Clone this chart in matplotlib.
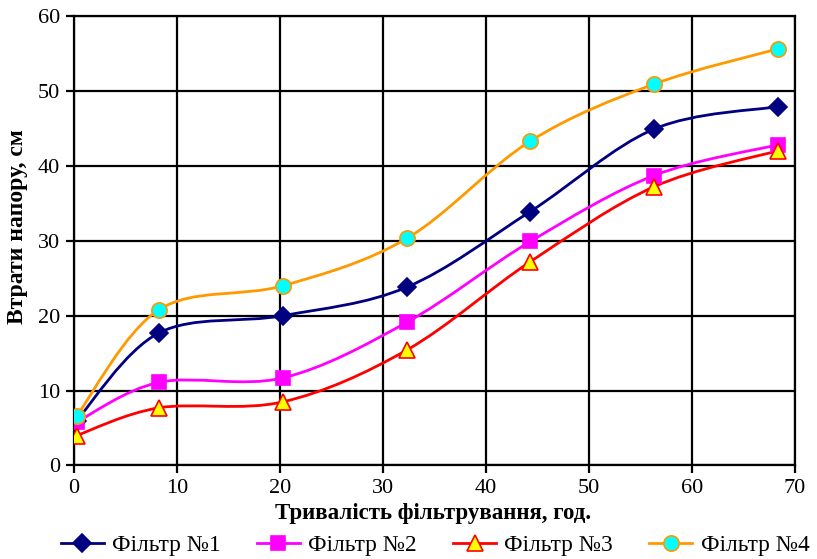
import numpy as np
import matplotlib
matplotlib.use("Agg")
import matplotlib.pyplot as plt
from matplotlib.path import Path
from matplotlib.patches import PathPatch
from matplotlib.lines import Line2D

plt.rcParams['font.family'] = ['Liberation Serif', 'DejaVu Serif']

# time of filtration, hours
hours = [0.25, 8.25, 20.3, 32.3, 44.3, 56.3, 68.3]

# head losses, cm
filter_1 = [6.0, 17.7, 20.0, 23.8, 33.9, 44.9, 47.9]
filter_2 = [5.8, 11.1, 11.7, 19.1, 29.9, 38.7, 42.8]
filter_3 = [4.0, 7.7, 8.5, 15.4, 27.2, 37.2, 42.0]
filter_4 = [6.6, 20.8, 24.0, 30.3, 43.3, 50.9, 55.6]

labels = ["Фільтр №1", "Фільтр №2", "Фільтр №3", "Фільтр №4"]
line_colors = ["#000080", "#FF00FF", "#FF0000", "#FF9900"]
markers = ["D", "s", "^", "o"]
face_colors = ["#000080", "#FF00FF", "#FFFF00", "#00FFFF"]
edge_colors = ["#000080", "#FF00FF", "#FF0000", "#FF9900"]
marker_sizes = [9, 10, 11, 11]


def smooth_path(x, y):
    # Excel-like smoothed line: cubic bezier segments with catmull-rom tangents
    pts = np.column_stack([x, y]).astype(float)
    n = len(pts)
    verts = [pts[0]]
    codes = [Path.MOVETO]
    for i in range(n - 1):
        p0 = pts[i - 1] if i > 0 else pts[i]
        p1 = pts[i]
        p2 = pts[i + 1]
        p3 = pts[i + 2] if i + 2 < n else pts[i + 1]
        c1 = p1 + (p2 - p0) / 6.0
        c2 = p2 - (p3 - p1) / 6.0
        verts += [c1, c2, p2]
        codes += [Path.CURVE4] * 3
    return Path(verts, codes)


fig = plt.figure(figsize=(8.17, 5.59), dpi=100)
ax = fig.add_axes([0.0906, 0.1673, 0.8825, 0.8041])

series = [filter_1, filter_2, filter_3, filter_4]
handles = []
for vals, lab, lc, mk, fc, ec, ms in zip(series, labels, line_colors, markers,
                                         face_colors, edge_colors, marker_sizes):
    patch = PathPatch(smooth_path(hours, vals), facecolor="none", edgecolor=lc,
                      lw=2.0, zorder=3)
    ax.add_patch(patch)
    ax.plot(hours, vals, linestyle="none", marker=mk, markersize=ms,
            markerfacecolor=fc, markeredgecolor=ec, markeredgewidth=1.2, zorder=4)
    handles.append(Line2D([], [], color=lc, lw=2.0, marker=mk, markersize=ms,
                          markerfacecolor=fc, markeredgecolor=ec,
                          markeredgewidth=1.2, label=lab))

ax.set_xlim(0, 70)
ax.set_ylim(0, 60)
ax.set_xticks(range(0, 71, 10))
ax.set_yticks(range(0, 61, 10))
ax.grid(True, color="black", lw=1.6)
ax.set_axisbelow(True)
for s in ax.spines.values():
    s.set_linewidth(1.6)
    s.set_color("black")
ax.tick_params(axis="both", direction="out", length=6, width=1.6,
               labelsize=16, pad=4)

# axis titles placed in figure coords
fig.text(433 / 817, 1 - 513 / 559, "Тривалість фільтрування, год.",
         fontsize=16.5, fontweight="bold", ha="center", va="center")
fig.text(18 / 817, 1 - 227 / 559, "Втрати напору, см", fontsize=17,
         fontweight="bold", rotation=90, ha="center", va="center")

fig.legend(handles=handles, loc="center", ncol=4, frameon=False,
           fontsize=16.8, bbox_to_anchor=(435 / 817, 1 - 545 / 559),
           columnspacing=1.55, handlelength=1.85, handletextpad=0.35,
           borderpad=0, borderaxespad=0)

fig.savefig("out.png", dpi=100)
